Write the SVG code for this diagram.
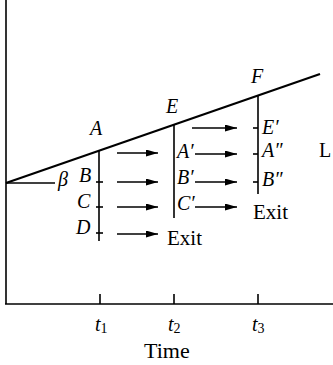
<svg xmlns="http://www.w3.org/2000/svg" width="333" height="365" viewBox="0 0 333 365">
<defs>
<marker id="ah" viewBox="0 0 12 7" refX="12" refY="3.5" markerWidth="12" markerHeight="7" markerUnits="userSpaceOnUse" orient="auto">
<path d="M0,0 L12,3.5 L0,7 Z" fill="#000"/>
</marker>
<style>
.ln{stroke:#000;stroke-width:1.6;fill:none}
.thk{stroke:#000;stroke-width:2.2;fill:none}
.arr{stroke:#000;stroke-width:1.4;fill:none;marker-end:url(#ah)}
.it{font-family:"Liberation Serif","Times New Roman",serif;font-style:italic;font-size:20px;fill:#000}
.rm{font-family:"Liberation Serif","Times New Roman",serif;font-size:21px;fill:#000}
.sub{font-family:"Liberation Serif","Times New Roman",serif;font-size:14px;font-style:normal}
</style>
</defs>
<rect width="333" height="365" fill="#fff"/>
<g id="axes">
<line class="ln" x1="6" y1="0" x2="6" y2="304"/>
<line class="ln" x1="5" y1="304" x2="333" y2="304"/>
<line class="ln" x1="100" y1="294" x2="100" y2="304"/>
<line class="ln" x1="174" y1="294" x2="174" y2="304"/>
<line class="ln" x1="258" y1="294" x2="258" y2="304"/>
<text class="it" x="95" y="331">t<tspan class="sub" dy="2">1</tspan></text>
<text class="it" x="168" y="331">t<tspan class="sub" dy="2">2</tspan></text>
<text class="it" x="252" y="331">t<tspan class="sub" dy="2">3</tspan></text>
<text class="rm" x="144" y="358" style="font-size:22px">Time</text>
<text class="rm" x="319" y="157" style="font-size:20px">L</text>
</g>
<g id="front">
<line class="thk" x1="6" y1="183" x2="320" y2="74"/>
<line class="ln" x1="6" y1="183" x2="55" y2="183"/>
<text class="it" x="58" y="186">β</text>
</g>
<g id="t1-column">
<line class="ln" x1="99" y1="151" x2="99" y2="241"/>
<line class="ln" x1="96" y1="182" x2="103" y2="182"/>
<line class="ln" x1="96" y1="207" x2="103" y2="207"/>
<line class="ln" x1="96" y1="233" x2="103" y2="233"/>
<text class="it" x="90" y="135">A</text>
<text class="it" x="79" y="182">B</text>
<text class="it" x="77" y="208">C</text>
<text class="it" x="76" y="234">D</text>
</g>
<g id="t2-column">
<line class="ln" x1="174" y1="125" x2="174" y2="218"/>
<text class="it" x="166" y="113">E</text>
<text class="it" x="177" y="158">A′</text>
<text class="it" x="177" y="184">B′</text>
<text class="it" x="177" y="210">C′</text>
<text class="rm" x="167" y="245">Exit</text>
</g>
<g id="t3-column">
<line class="ln" x1="258" y1="96" x2="258" y2="194"/>
<line class="ln" x1="253" y1="128" x2="258" y2="128"/>
<line class="ln" x1="253" y1="154" x2="258" y2="154"/>
<line class="ln" x1="253" y1="182" x2="258" y2="182"/>
<text class="it" x="251" y="83">F</text>
<text class="it" x="262" y="134">E′</text>
<text class="it" x="262" y="157">A″</text>
<text class="it" x="262" y="186">B″</text>
<text class="rm" x="253" y="219">Exit</text>
</g>
<g id="connectors">
<line class="arr" x1="117" y1="153" x2="158" y2="153"/>
<line class="arr" x1="117" y1="182" x2="158" y2="182"/>
<line class="arr" x1="117" y1="207" x2="158" y2="207"/>
<line class="arr" x1="117" y1="234" x2="158" y2="234"/>
<line class="arr" x1="192" y1="128" x2="237" y2="128"/>
<line class="arr" x1="195" y1="154" x2="237" y2="154"/>
<line class="arr" x1="195" y1="182" x2="237" y2="182"/>
<line class="arr" x1="195" y1="207" x2="237" y2="207"/>
</g>
</svg>
